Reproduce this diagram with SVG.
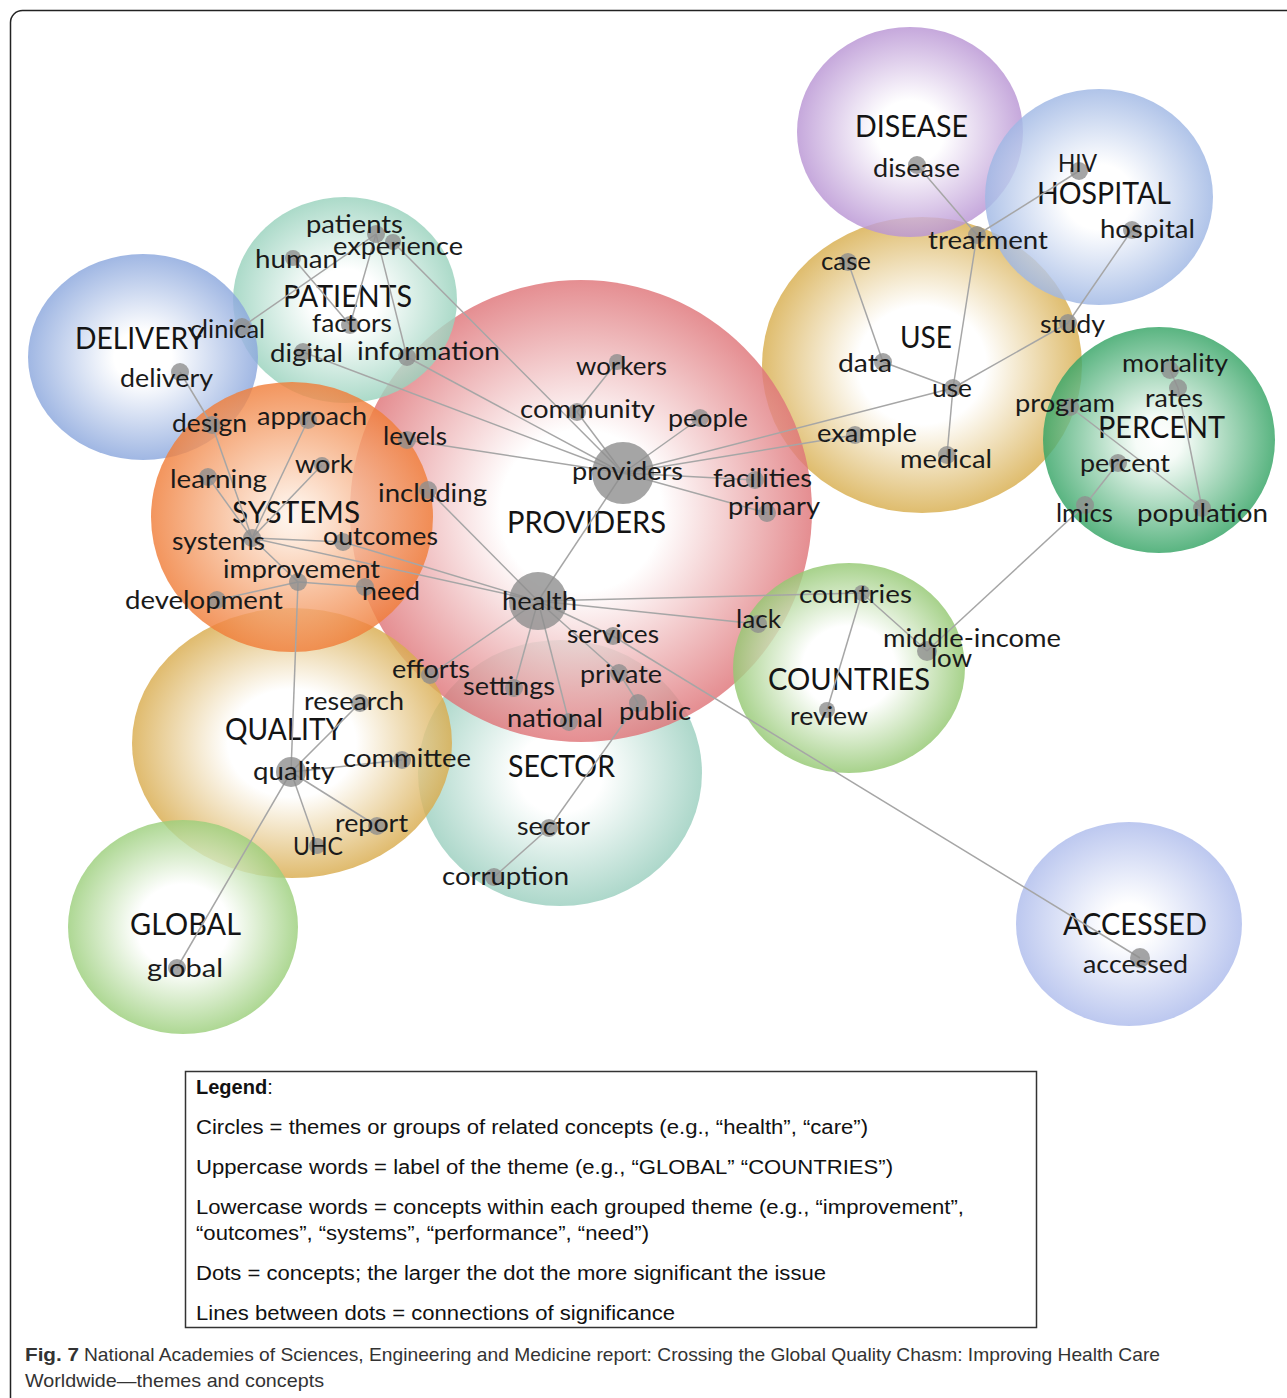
<svg xmlns="http://www.w3.org/2000/svg" width="1287" height="1398" viewBox="0 0 1287 1398">
<style>
.bubble{opacity:0.82}
.theme{font-family:Lato,"Open Sans","Liberation Sans",sans-serif;font-size:31px;fill:#141414;text-anchor:middle}
.lbl{font-family:Lato,"Open Sans","Liberation Sans",sans-serif;font-size:25px;fill:#1a1a1a;text-anchor:middle}
.dot{fill:#8e8e8e;fill-opacity:0.8}
.edges line{stroke:#a6a6a6;stroke-width:1.5}
.leg{font-family:"Liberation Sans",Arial,sans-serif;font-size:20px;fill:#111}
.cap{font-family:"Liberation Sans",Arial,sans-serif;font-size:19px;fill:#333}
</style>
<defs>
<radialGradient id="gDisease"><stop offset="0" stop-color="#fff"/><stop offset="0.3" stop-color="#fff"/><stop offset="1" stop-color="#b995d4"/></radialGradient>
<radialGradient id="gHospital"><stop offset="0" stop-color="#fff"/><stop offset="0.3" stop-color="#fff"/><stop offset="1" stop-color="#9fb7e4"/></radialGradient>
<radialGradient id="gUse"><stop offset="0" stop-color="#fff"/><stop offset="0.4" stop-color="#fff"/><stop offset="1" stop-color="#d8ae4e"/></radialGradient>
<radialGradient id="gPercent"><stop offset="0" stop-color="#fff"/><stop offset="0.2" stop-color="#f4fbf6"/><stop offset="1" stop-color="#35a465"/></radialGradient>
<radialGradient id="gProviders"><stop offset="0" stop-color="#fff"/><stop offset="0.35" stop-color="#fff"/><stop offset="1" stop-color="#df7579"/></radialGradient>
<radialGradient id="gPatients"><stop offset="0" stop-color="#fff"/><stop offset="0.3" stop-color="#fff"/><stop offset="1" stop-color="#99d2bd"/></radialGradient>
<radialGradient id="gDelivery"><stop offset="0" stop-color="#fff"/><stop offset="0.25" stop-color="#fff"/><stop offset="1" stop-color="#8ba7dd"/></radialGradient>
<radialGradient id="gSystems"><stop offset="0" stop-color="#fff4ec"/><stop offset="0.15" stop-color="#fde7d7"/><stop offset="1" stop-color="#f07e3a"/></radialGradient>
<radialGradient id="gQuality"><stop offset="0" stop-color="#fff"/><stop offset="0.4" stop-color="#fff"/><stop offset="1" stop-color="#d9ac4e"/></radialGradient>
<radialGradient id="gSector"><stop offset="0" stop-color="#fff"/><stop offset="0.3" stop-color="#fff"/><stop offset="1" stop-color="#9bcfbf"/></radialGradient>
<radialGradient id="gCountries"><stop offset="0" stop-color="#fff"/><stop offset="0.4" stop-color="#fff"/><stop offset="1" stop-color="#94c872"/></radialGradient>
<radialGradient id="gGlobal"><stop offset="0" stop-color="#fff"/><stop offset="0.4" stop-color="#fff"/><stop offset="1" stop-color="#9ccf7c"/></radialGradient>
<radialGradient id="gAccessed"><stop offset="0" stop-color="#fff"/><stop offset="0.2" stop-color="#fff"/><stop offset="1" stop-color="#aebcec"/></radialGradient>
</defs>
<rect x="0" y="0" width="1287" height="1398" fill="#fff"/>
<rect x="10.5" y="10.5" width="1300" height="1400" rx="12" fill="none" stroke="#222" stroke-width="1.5"/>

<g id="themes">
<g id="theme-use"><ellipse class="bubble" cx="922" cy="365" rx="160" ry="148" fill="url(#gUse)"/><text class="theme" x="926" y="348" textLength="52" lengthAdjust="spacingAndGlyphs">USE</text></g>
<g id="theme-disease"><ellipse class="bubble" cx="910" cy="132" rx="113" ry="105" fill="url(#gDisease)"/><text class="theme" x="911.5" y="137" textLength="113" lengthAdjust="spacingAndGlyphs">DISEASE</text></g>
<g id="theme-hospital"><ellipse class="bubble" cx="1099" cy="197" rx="114" ry="108" fill="url(#gHospital)"/><text class="theme" x="1104" y="204" textLength="134" lengthAdjust="spacingAndGlyphs">HOSPITAL</text></g>
<g id="theme-percent"><ellipse class="bubble" cx="1159" cy="440" rx="116" ry="113" fill="url(#gPercent)"/><text class="theme" x="1161.5" y="438" textLength="127" lengthAdjust="spacingAndGlyphs">PERCENT</text></g>
<g id="theme-sector"><ellipse class="bubble" cx="560" cy="773" rx="142" ry="133" fill="url(#gSector)"/><text class="theme" x="561.5" y="777" textLength="107" lengthAdjust="spacingAndGlyphs">SECTOR</text></g>
<g id="theme-providers"><ellipse class="bubble" cx="581" cy="511" rx="231" ry="231" fill="url(#gProviders)"/><text class="theme" x="586.5" y="533" textLength="159" lengthAdjust="spacingAndGlyphs">PROVIDERS</text></g>
<g id="theme-patients"><ellipse class="bubble" cx="345" cy="300" rx="112" ry="103" fill="url(#gPatients)"/><text class="theme" x="347.5" y="307" textLength="129" lengthAdjust="spacingAndGlyphs">PATIENTS</text></g>
<g id="theme-delivery"><ellipse class="bubble" cx="143" cy="357" rx="115" ry="103" fill="url(#gDelivery)"/><text class="theme" x="140" y="349" textLength="130" lengthAdjust="spacingAndGlyphs">DELIVERY</text></g>
<g id="theme-quality"><ellipse class="bubble" cx="292" cy="743" rx="160" ry="135" fill="url(#gQuality)"/><text class="theme" x="284" y="740" textLength="118" lengthAdjust="spacingAndGlyphs">QUALITY</text></g>
<g id="theme-systems"><ellipse class="bubble" cx="292" cy="517" rx="141" ry="135" fill="url(#gSystems)"/><text class="theme" x="296" y="523" textLength="128" lengthAdjust="spacingAndGlyphs">SYSTEMS</text></g>
<g id="theme-countries"><ellipse class="bubble" cx="849" cy="668" rx="116" ry="105" fill="url(#gCountries)"/><text class="theme" x="849" y="690" textLength="162" lengthAdjust="spacingAndGlyphs">COUNTRIES</text></g>
<g id="theme-global"><ellipse class="bubble" cx="183" cy="927" rx="115" ry="107" fill="url(#gGlobal)"/><text class="theme" x="185.5" y="935" textLength="111" lengthAdjust="spacingAndGlyphs">GLOBAL</text></g>
<g id="theme-accessed"><ellipse class="bubble" cx="1129" cy="924" rx="113" ry="102" fill="url(#gAccessed)"/><text class="theme" x="1135" y="935" textLength="144" lengthAdjust="spacingAndGlyphs">ACCESSED</text></g>
</g>

<g id="connectors" class="edges">
<line x1="242" y1="327" x2="376" y2="234"/>
<line x1="293" y1="258" x2="350" y2="325"/>
<line x1="376" y1="234" x2="350" y2="325"/>
<line x1="376" y1="234" x2="407" y2="357"/>
<line x1="393" y1="242" x2="623" y2="473"/>
<line x1="407" y1="357" x2="623" y2="473"/>
<line x1="303" y1="352" x2="623" y2="473"/>
<line x1="407" y1="440" x2="623" y2="473"/>
<line x1="617" y1="362" x2="577" y2="412"/>
<line x1="577" y1="412" x2="623" y2="473"/>
<line x1="700" y1="418" x2="623" y2="473"/>
<line x1="623" y1="473" x2="953" y2="388"/>
<line x1="623" y1="473" x2="855" y2="435"/>
<line x1="623" y1="473" x2="755" y2="480"/>
<line x1="623" y1="473" x2="767" y2="513"/>
<line x1="623" y1="473" x2="538" y2="601"/>
<line x1="180" y1="372" x2="212" y2="425"/>
<line x1="212" y1="425" x2="252" y2="538"/>
<line x1="208" y1="477" x2="252" y2="538"/>
<line x1="308" y1="420" x2="252" y2="538"/>
<line x1="322" y1="465" x2="252" y2="538"/>
<line x1="252" y1="538" x2="343" y2="542"/>
<line x1="252" y1="538" x2="298" y2="582"/>
<line x1="252" y1="538" x2="538" y2="601"/>
<line x1="343" y1="542" x2="538" y2="601"/>
<line x1="298" y1="582" x2="365" y2="587"/>
<line x1="298" y1="582" x2="217" y2="600"/>
<line x1="298" y1="582" x2="291" y2="772"/>
<line x1="428" y1="490" x2="538" y2="601"/>
<line x1="538" y1="601" x2="430" y2="675"/>
<line x1="538" y1="601" x2="514" y2="688"/>
<line x1="538" y1="601" x2="569" y2="722"/>
<line x1="538" y1="601" x2="613" y2="636"/>
<line x1="613" y1="636" x2="1140" y2="958"/>
<line x1="538" y1="601" x2="619" y2="673"/>
<line x1="619" y1="673" x2="638" y2="703"/>
<line x1="638" y1="703" x2="549" y2="828"/>
<line x1="549" y1="828" x2="494" y2="877"/>
<line x1="538" y1="601" x2="758" y2="624"/>
<line x1="538" y1="601" x2="862" y2="593"/>
<line x1="862" y1="593" x2="827" y2="710"/>
<line x1="862" y1="593" x2="927" y2="651"/>
<line x1="927" y1="651" x2="1085" y2="505"/>
<line x1="1085" y1="505" x2="1118" y2="463"/>
<line x1="1070" y1="407" x2="1202" y2="508"/>
<line x1="1178" y1="388" x2="1202" y2="508"/>
<line x1="1170" y1="370" x2="1178" y2="388"/>
<line x1="953" y1="388" x2="1068" y2="323"/>
<line x1="1068" y1="323" x2="1132" y2="230"/>
<line x1="953" y1="388" x2="883" y2="362"/>
<line x1="883" y1="362" x2="848" y2="262"/>
<line x1="953" y1="388" x2="977" y2="235"/>
<line x1="977" y1="235" x2="917" y2="165"/>
<line x1="977" y1="235" x2="1079" y2="171"/>
<line x1="953" y1="388" x2="947" y2="455"/>
<line x1="291" y1="772" x2="360" y2="703"/>
<line x1="291" y1="772" x2="402" y2="760"/>
<line x1="291" y1="772" x2="377" y2="826"/>
<line x1="291" y1="772" x2="317" y2="846"/>
<line x1="291" y1="772" x2="177" y2="968"/>
</g>

<g id="concepts">
<g id="c-patients"><circle class="dot" cx="376" cy="234" r="9"/><text class="lbl" x="354.5" y="233" textLength="97" lengthAdjust="spacingAndGlyphs">patients</text></g>
<g id="c-experience"><circle class="dot" cx="393" cy="242" r="8"/><text class="lbl" x="398" y="255" textLength="130" lengthAdjust="spacingAndGlyphs">experience</text></g>
<g id="c-human"><circle class="dot" cx="293" cy="258" r="8"/><text class="lbl" x="296.5" y="268" textLength="83" lengthAdjust="spacingAndGlyphs">human</text></g>
<g id="c-factors"><circle class="dot" cx="350" cy="325" r="9"/><text class="lbl" x="352" y="332" textLength="80" lengthAdjust="spacingAndGlyphs">factors</text></g>
<g id="c-clinical"><circle class="dot" cx="242" cy="327" r="9"/><text class="lbl" x="227.5" y="338" textLength="75" lengthAdjust="spacingAndGlyphs">clinical</text></g>
<g id="c-digital"><circle class="dot" cx="303" cy="352" r="9"/><text class="lbl" x="306.5" y="362" textLength="73" lengthAdjust="spacingAndGlyphs">digital</text></g>
<g id="c-information"><circle class="dot" cx="407" cy="357" r="9"/><text class="lbl" x="428.5" y="360" textLength="143" lengthAdjust="spacingAndGlyphs">information</text></g>
<g id="c-delivery"><circle class="dot" cx="180" cy="372" r="9"/><text class="lbl" x="166.5" y="387" textLength="93" lengthAdjust="spacingAndGlyphs">delivery</text></g>
<g id="c-design"><circle class="dot" cx="212" cy="425" r="9"/><text class="lbl" x="209.5" y="432" textLength="75" lengthAdjust="spacingAndGlyphs">design</text></g>
<g id="c-approach"><circle class="dot" cx="308" cy="420" r="9"/><text class="lbl" x="312" y="425" textLength="110" lengthAdjust="spacingAndGlyphs">approach</text></g>
<g id="c-levels"><circle class="dot" cx="407" cy="440" r="9"/><text class="lbl" x="415" y="445" textLength="64" lengthAdjust="spacingAndGlyphs">levels</text></g>
<g id="c-learning"><circle class="dot" cx="208" cy="477" r="9"/><text class="lbl" x="218.5" y="488" textLength="97" lengthAdjust="spacingAndGlyphs">learning</text></g>
<g id="c-work"><circle class="dot" cx="322" cy="465" r="8"/><text class="lbl" x="324" y="473" textLength="58" lengthAdjust="spacingAndGlyphs">work</text></g>
<g id="c-including"><circle class="dot" cx="428" cy="490" r="9"/><text class="lbl" x="432.5" y="502" textLength="109" lengthAdjust="spacingAndGlyphs">including</text></g>
<g id="c-systems"><circle class="dot" cx="252" cy="538" r="9"/><text class="lbl" x="218.5" y="550" textLength="93" lengthAdjust="spacingAndGlyphs">systems</text></g>
<g id="c-outcomes"><circle class="dot" cx="343" cy="542" r="9"/><text class="lbl" x="380.5" y="545" textLength="115" lengthAdjust="spacingAndGlyphs">outcomes</text></g>
<g id="c-improvement"><circle class="dot" cx="298" cy="582" r="9"/><text class="lbl" x="301.5" y="578" textLength="157" lengthAdjust="spacingAndGlyphs">improvement</text></g>
<g id="c-need"><circle class="dot" cx="365" cy="587" r="9"/><text class="lbl" x="391" y="600" textLength="58" lengthAdjust="spacingAndGlyphs">need</text></g>
<g id="c-development"><circle class="dot" cx="217" cy="600" r="9"/><text class="lbl" x="204" y="609" textLength="158" lengthAdjust="spacingAndGlyphs">development</text></g>
<g id="c-workers"><circle class="dot" cx="617" cy="362" r="8"/><text class="lbl" x="621.5" y="375" textLength="91" lengthAdjust="spacingAndGlyphs">workers</text></g>
<g id="c-community"><circle class="dot" cx="577" cy="412" r="9"/><text class="lbl" x="587.5" y="418" textLength="135" lengthAdjust="spacingAndGlyphs">community</text></g>
<g id="c-people"><circle class="dot" cx="700" cy="418" r="9"/><text class="lbl" x="708" y="427" textLength="80" lengthAdjust="spacingAndGlyphs">people</text></g>
<g id="c-providers"><circle class="dot" cx="623" cy="473" r="31"/><text class="lbl" x="627.5" y="480" textLength="111" lengthAdjust="spacingAndGlyphs">providers</text></g>
<g id="c-facilities"><circle class="dot" cx="755" cy="480" r="9"/><text class="lbl" x="762.5" y="487" textLength="99" lengthAdjust="spacingAndGlyphs">facilities</text></g>
<g id="c-primary"><circle class="dot" cx="767" cy="513" r="9"/><text class="lbl" x="774" y="515" textLength="92" lengthAdjust="spacingAndGlyphs">primary</text></g>
<g id="c-health"><circle class="dot" cx="538" cy="601" r="29"/><text class="lbl" x="539.5" y="610" textLength="75" lengthAdjust="spacingAndGlyphs">health</text></g>
<g id="c-efforts"><circle class="dot" cx="430" cy="675" r="9"/><text class="lbl" x="431" y="678" textLength="78" lengthAdjust="spacingAndGlyphs">efforts</text></g>
<g id="c-settings"><circle class="dot" cx="514" cy="688" r="9"/><text class="lbl" x="509" y="695" textLength="92" lengthAdjust="spacingAndGlyphs">settings</text></g>
<g id="c-national"><circle class="dot" cx="569" cy="722" r="9"/><text class="lbl" x="555" y="727" textLength="96" lengthAdjust="spacingAndGlyphs">national</text></g>
<g id="c-services"><circle class="dot" cx="613" cy="636" r="9"/><text class="lbl" x="613" y="643" textLength="92" lengthAdjust="spacingAndGlyphs">services</text></g>
<g id="c-private"><circle class="dot" cx="619" cy="673" r="9"/><text class="lbl" x="621" y="683" textLength="82" lengthAdjust="spacingAndGlyphs">private</text></g>
<g id="c-public"><circle class="dot" cx="638" cy="703" r="9"/><text class="lbl" x="655" y="720" textLength="72" lengthAdjust="spacingAndGlyphs">public</text></g>
<g id="c-lack"><circle class="dot" cx="758" cy="624" r="9"/><text class="lbl" x="758.5" y="628" textLength="45" lengthAdjust="spacingAndGlyphs">lack</text></g>
<g id="c-countries"><circle class="dot" cx="862" cy="593" r="8"/><text class="lbl" x="855.5" y="603" textLength="113" lengthAdjust="spacingAndGlyphs">countries</text></g>
<g id="c-middle-income"><circle class="dot" cx="927" cy="651" r="10"/><text class="lbl" x="972" y="647" textLength="178" lengthAdjust="spacingAndGlyphs">middle-income</text></g>
<g id="c-low"><text class="lbl" x="951.5" y="667" textLength="41" lengthAdjust="spacingAndGlyphs">low</text></g>
<g id="c-review"><circle class="dot" cx="827" cy="710" r="8"/><text class="lbl" x="829" y="725" textLength="78" lengthAdjust="spacingAndGlyphs">review</text></g>
<g id="c-research"><circle class="dot" cx="360" cy="703" r="9"/><text class="lbl" x="354" y="710" textLength="100" lengthAdjust="spacingAndGlyphs">research</text></g>
<g id="c-quality"><circle class="dot" cx="291" cy="772" r="15"/><text class="lbl" x="294" y="780" textLength="82" lengthAdjust="spacingAndGlyphs">quality</text></g>
<g id="c-committee"><circle class="dot" cx="402" cy="760" r="9"/><text class="lbl" x="407" y="767" textLength="128" lengthAdjust="spacingAndGlyphs">committee</text></g>
<g id="c-report"><circle class="dot" cx="377" cy="826" r="9"/><text class="lbl" x="371.5" y="832" textLength="73" lengthAdjust="spacingAndGlyphs">report</text></g>
<g id="c-uhc"><circle class="dot" cx="317" cy="846" r="8"/><text class="lbl" x="318" y="855" textLength="50" lengthAdjust="spacingAndGlyphs">UHC</text></g>
<g id="c-sector"><circle class="dot" cx="549" cy="828" r="9"/><text class="lbl" x="553.5" y="835" textLength="73" lengthAdjust="spacingAndGlyphs">sector</text></g>
<g id="c-corruption"><circle class="dot" cx="494" cy="877" r="9"/><text class="lbl" x="505.5" y="885" textLength="127" lengthAdjust="spacingAndGlyphs">corruption</text></g>
<g id="c-global"><circle class="dot" cx="177" cy="968" r="9"/><text class="lbl" x="185" y="977" textLength="76" lengthAdjust="spacingAndGlyphs">global</text></g>
<g id="c-accessed"><circle class="dot" cx="1140" cy="958" r="10"/><text class="lbl" x="1135.5" y="973" textLength="105" lengthAdjust="spacingAndGlyphs">accessed</text></g>
<g id="c-disease"><circle class="dot" cx="917" cy="165" r="9"/><text class="lbl" x="916.5" y="177" textLength="87" lengthAdjust="spacingAndGlyphs">disease</text></g>
<g id="c-hiv"><circle class="dot" cx="1079" cy="171" r="9"/><text class="lbl" x="1077.5" y="172" textLength="39" lengthAdjust="spacingAndGlyphs">HIV</text></g>
<g id="c-hospital"><circle class="dot" cx="1132" cy="230" r="9"/><text class="lbl" x="1147.5" y="238" textLength="95" lengthAdjust="spacingAndGlyphs">hospital</text></g>
<g id="c-treatment"><circle class="dot" cx="977" cy="235" r="9"/><text class="lbl" x="988" y="249" textLength="120" lengthAdjust="spacingAndGlyphs">treatment</text></g>
<g id="c-case"><circle class="dot" cx="848" cy="262" r="9"/><text class="lbl" x="846" y="270" textLength="50" lengthAdjust="spacingAndGlyphs">case</text></g>
<g id="c-study"><circle class="dot" cx="1068" cy="323" r="9"/><text class="lbl" x="1072.5" y="333" textLength="65" lengthAdjust="spacingAndGlyphs">study</text></g>
<g id="c-data"><circle class="dot" cx="883" cy="362" r="9"/><text class="lbl" x="865" y="372" textLength="54" lengthAdjust="spacingAndGlyphs">data</text></g>
<g id="c-use"><circle class="dot" cx="953" cy="388" r="9"/><text class="lbl" x="952" y="397" textLength="40" lengthAdjust="spacingAndGlyphs">use</text></g>
<g id="c-mortality"><circle class="dot" cx="1170" cy="370" r="9"/><text class="lbl" x="1175" y="372" textLength="106" lengthAdjust="spacingAndGlyphs">mortality</text></g>
<g id="c-rates"><circle class="dot" cx="1178" cy="388" r="9"/><text class="lbl" x="1174" y="407" textLength="58" lengthAdjust="spacingAndGlyphs">rates</text></g>
<g id="c-program"><circle class="dot" cx="1070" cy="407" r="9"/><text class="lbl" x="1065" y="412" textLength="100" lengthAdjust="spacingAndGlyphs">program</text></g>
<g id="c-example"><circle class="dot" cx="855" cy="435" r="9"/><text class="lbl" x="867" y="442" textLength="100" lengthAdjust="spacingAndGlyphs">example</text></g>
<g id="c-medical"><circle class="dot" cx="947" cy="455" r="9"/><text class="lbl" x="946" y="468" textLength="92" lengthAdjust="spacingAndGlyphs">medical</text></g>
<g id="c-percent"><circle class="dot" cx="1118" cy="463" r="9"/><text class="lbl" x="1125" y="472" textLength="90" lengthAdjust="spacingAndGlyphs">percent</text></g>
<g id="c-lmics"><circle class="dot" cx="1085" cy="505" r="9"/><text class="lbl" x="1084.5" y="522" textLength="57" lengthAdjust="spacingAndGlyphs">lmics</text></g>
<g id="c-population"><circle class="dot" cx="1202" cy="508" r="9"/><text class="lbl" x="1202.5" y="522" textLength="131" lengthAdjust="spacingAndGlyphs">population</text></g>
</g>

<g id="legend">
<rect x="185.5" y="1071.5" width="851" height="256" fill="#fff" stroke="#333" stroke-width="1.5"/>
<text class="leg" x="196" y="1094"><tspan font-weight="bold">Legend</tspan>:</text>
<text class="leg" x="196" y="1134" textLength="672" lengthAdjust="spacingAndGlyphs">Circles = themes or groups of related concepts (e.g., “health”, “care”)</text>
<text class="leg" x="196" y="1174" textLength="697" lengthAdjust="spacingAndGlyphs">Uppercase words = label of the theme (e.g., “GLOBAL” “COUNTRIES”)</text>
<text class="leg" x="196" y="1214" textLength="768" lengthAdjust="spacingAndGlyphs">Lowercase words = concepts within each grouped theme (e.g., “improvement”,</text>
<text class="leg" x="196" y="1240" textLength="453" lengthAdjust="spacingAndGlyphs">“outcomes”, “systems”, “performance”, “need”)</text>
<text class="leg" x="196" y="1280" textLength="630" lengthAdjust="spacingAndGlyphs">Dots = concepts; the larger the dot the more significant the issue</text>
<text class="leg" x="196" y="1320" textLength="479" lengthAdjust="spacingAndGlyphs">Lines between dots = connections of significance</text>
</g>

<g id="caption">
<text class="cap" x="25" y="1361" font-weight="bold" fill="#111" textLength="54" lengthAdjust="spacingAndGlyphs">Fig. 7</text>
<text class="cap" x="84" y="1361" textLength="1076" lengthAdjust="spacingAndGlyphs">National Academies of Sciences, Engineering and Medicine report: Crossing the Global Quality Chasm: Improving Health Care</text>
<text class="cap" x="25" y="1387" textLength="299" lengthAdjust="spacingAndGlyphs">Worldwide—themes and concepts</text>
</g>
</svg>
